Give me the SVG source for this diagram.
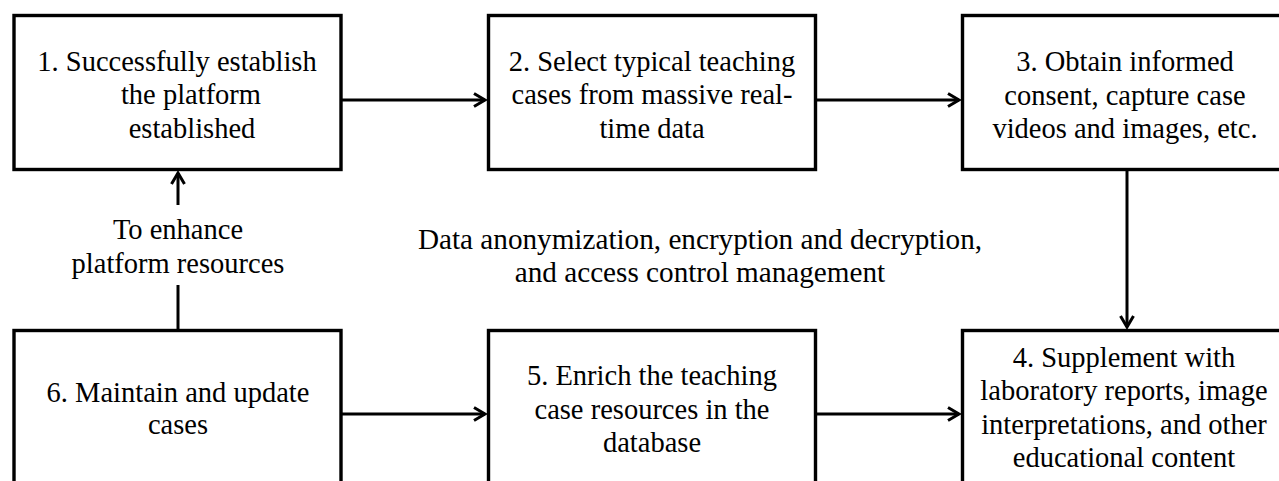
<svg xmlns="http://www.w3.org/2000/svg" width="1279" height="481" viewBox="0 0 1279 481">
  <defs>
    <style>
      .box { fill: #ffffff; stroke: #000000; stroke-width: 3.4; }
      .link { fill: none; stroke: #000000; stroke-width: 3; }
      text { font-family: "Liberation Serif", "Times New Roman", serif; font-size: 28.5px; fill: #000000; text-anchor: middle; }
      .wide { font-size: 29.2px; }
    </style>
    <marker id="arrow" markerUnits="userSpaceOnUse" markerWidth="16" markerHeight="18" viewBox="-13 -9 16 18" refX="0" refY="0" orient="auto">
      <path d="M-11,-6.5 L0,0 L-11,6.5" fill="none" stroke="#000000" stroke-width="3" stroke-linejoin="miter"/>
    </marker>
  </defs>

  <rect width="1279" height="481" fill="#ffffff"/>

  <!-- connectors -->
  <g id="connectors">
    <line class="link" x1="342" y1="100" x2="485" y2="100" marker-end="url(#arrow)"/>
    <line class="link" x1="817" y1="100" x2="959" y2="100" marker-end="url(#arrow)"/>
    <line class="link" x1="1127" y1="169" x2="1127" y2="327" marker-end="url(#arrow)"/>
    <line class="link" x1="342" y1="414" x2="485" y2="414" marker-end="url(#arrow)"/>
    <line class="link" x1="817" y1="414" x2="959" y2="414" marker-end="url(#arrow)"/>
    <line class="link" x1="178" y1="329" x2="178" y2="285"/>
    <line class="link" x1="178" y1="205" x2="178" y2="173" marker-end="url(#arrow)"/>
  </g>

  <!-- free labels -->
  <g id="label-feedback">
    <text x="178" y="239">To enhance</text>
    <text x="178" y="273">platform resources</text>
  </g>
  <g id="label-security">
    <text class="wide" x="700" y="249">Data anonymization, encryption and decryption,</text>
    <text class="wide" x="700" y="282">and access control management</text>
  </g>

  <!-- nodes -->
  <g id="node1">
    <rect class="box" x="14" y="15.5" width="327" height="154"/>
    <text x="177" y="71">1. Successfully establish</text>
    <text x="191" y="104">the platform</text>
    <text x="192" y="137.5">established</text>
  </g>
  <g id="node2">
    <rect class="box" x="488.5" y="15.5" width="327" height="154"/>
    <text x="652" y="71">2. Select typical teaching</text>
    <text x="652" y="104">cases from massive real-</text>
    <text x="652" y="137.5">time data</text>
  </g>
  <g id="node3">
    <rect class="box" x="962.5" y="15.5" width="330" height="154"/>
    <text x="1125" y="71">3. Obtain informed</text>
    <text x="1125" y="104.5">consent, capture case</text>
    <text x="1125" y="138">videos and images, etc.</text>
  </g>
  <g id="node4">
    <rect class="box" x="962.5" y="330.5" width="330" height="170"/>
    <text x="1124" y="367">4. Supplement with</text>
    <text x="1124" y="400">laboratory reports, image</text>
    <text x="1124" y="433.5">interpretations, and other</text>
    <text x="1124" y="467">educational content</text>
  </g>
  <g id="node5">
    <rect class="box" x="488.5" y="330.5" width="327" height="170"/>
    <text x="652" y="385">5. Enrich the teaching</text>
    <text x="652" y="418.5">case resources in the</text>
    <text x="652" y="452">database</text>
  </g>
  <g id="node6">
    <rect class="box" x="14" y="330.5" width="327" height="170"/>
    <text x="178" y="401.5">6. Maintain and update</text>
    <text x="178" y="434">cases</text>
  </g>
</svg>
